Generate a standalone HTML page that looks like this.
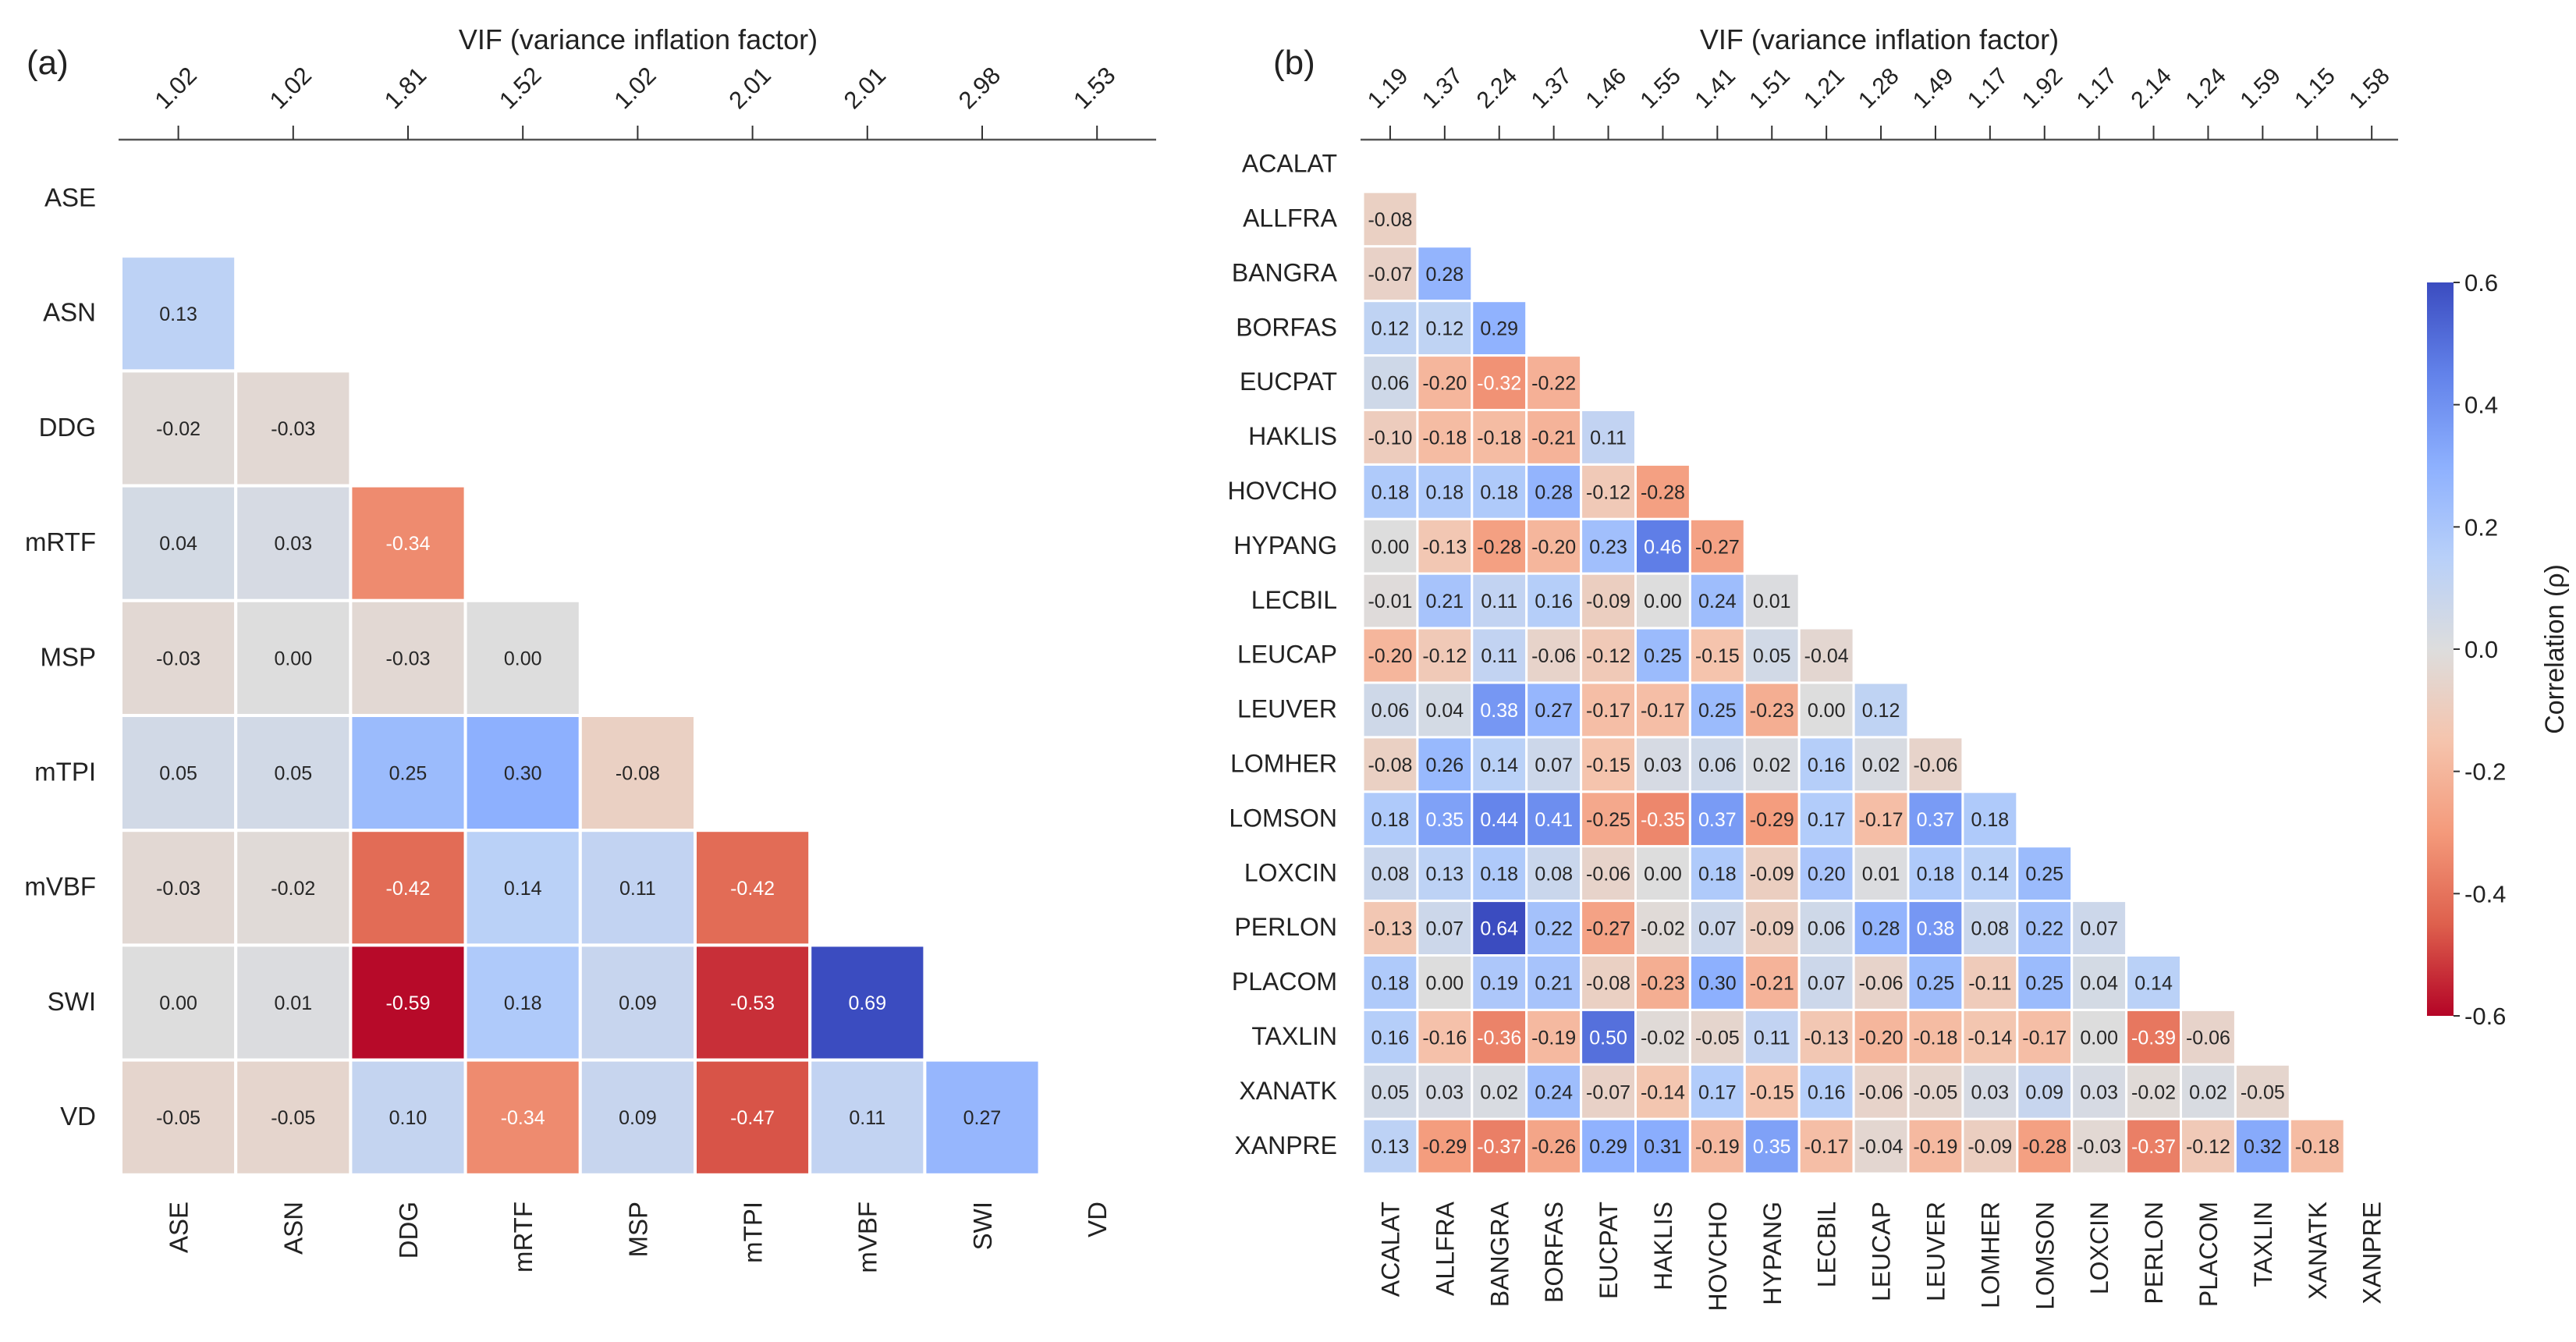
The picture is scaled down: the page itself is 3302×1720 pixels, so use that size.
<!DOCTYPE html>
<html><head><meta charset="utf-8">
<style>
html,body{margin:0;padding:0;background:#fff;}
svg{display:block;font-family:"Liberation Sans",sans-serif;}
</style></head>
<body>
<svg id="chart" width="3302" height="1720" viewBox="0 0 3302 1720" xmlns="http://www.w3.org/2000/svg">
<defs>
<linearGradient id="cbgrad" x1="0" y1="0" x2="0" y2="1">
<stop offset="0" stop-color="rgb(59,76,192)"/>
<stop offset="0.125" stop-color="rgb(98,130,234)"/>
<stop offset="0.25" stop-color="rgb(141,176,254)"/>
<stop offset="0.375" stop-color="rgb(184,208,249)"/>
<stop offset="0.5" stop-color="rgb(221,221,221)"/>
<stop offset="0.625" stop-color="rgb(245,196,173)"/>
<stop offset="0.75" stop-color="rgb(244,154,123)"/>
<stop offset="0.875" stop-color="rgb(222,96,77)"/>
<stop offset="1" stop-color="rgb(180,4,38)"/>
</linearGradient>
</defs>
<g id="panelA"></g>
<g id="panelB"></g>
<g id="cbar"></g>
</svg>
<script>
const varsA = ["ASE","ASN","DDG","mRTF","MSP","mTPI","mVBF","SWI","VD"];
const vifA = ["1.02","1.02","1.81","1.52","1.02","2.01","2.01","2.98","1.53"];
const corrA = [
[],
[0.13],
[-0.02,-0.03],
[0.04,0.03,-0.34],
[-0.03,0.00,-0.03,0.00],
[0.05,0.05,0.25,0.30,-0.08],
[-0.03,-0.02,-0.42,0.14,0.11,-0.42],
[0.00,0.01,-0.59,0.18,0.09,-0.53,0.69],
[-0.05,-0.05,0.10,-0.34,0.09,-0.47,0.11,0.27]
];
const varsB = ["ACALAT","ALLFRA","BANGRA","BORFAS","EUCPAT","HAKLIS","HOVCHO","HYPANG","LECBIL","LEUCAP","LEUVER","LOMHER","LOMSON","LOXCIN","PERLON","PLACOM","TAXLIN","XANATK","XANPRE"];
const vifB = ["1.19","1.37","2.24","1.37","1.46","1.55","1.41","1.51","1.21","1.28","1.49","1.17","1.92","1.17","2.14","1.24","1.59","1.15","1.58"];
const corrB = [
[],
[-0.08],
[-0.07,0.28],
[0.12,0.12,0.29],
[0.06,-0.20,-0.32,-0.22],
[-0.10,-0.18,-0.18,-0.21,0.11],
[0.18,0.18,0.18,0.28,-0.12,-0.28],
[0.00,-0.13,-0.28,-0.20,0.23,0.46,-0.27],
[-0.01,0.21,0.11,0.16,-0.09,0.00,0.24,0.01],
[-0.20,-0.12,0.11,-0.06,-0.12,0.25,-0.15,0.05,-0.04],
[0.06,0.04,0.38,0.27,-0.17,-0.17,0.25,-0.23,0.00,0.12],
[-0.08,0.26,0.14,0.07,-0.15,0.03,0.06,0.02,0.16,0.02,-0.06],
[0.18,0.35,0.44,0.41,-0.25,-0.35,0.37,-0.29,0.17,-0.17,0.37,0.18],
[0.08,0.13,0.18,0.08,-0.06,0.00,0.18,-0.09,0.20,0.01,0.18,0.14,0.25],
[-0.13,0.07,0.64,0.22,-0.27,-0.02,0.07,-0.09,0.06,0.28,0.38,0.08,0.22,0.07],
[0.18,0.00,0.19,0.21,-0.08,-0.23,0.30,-0.21,0.07,-0.06,0.25,-0.11,0.25,0.04,0.14],
[0.16,-0.16,-0.36,-0.19,0.50,-0.02,-0.05,0.11,-0.13,-0.20,-0.18,-0.14,-0.17,0.00,-0.39,-0.06],
[0.05,0.03,0.02,0.24,-0.07,-0.14,0.17,-0.15,0.16,-0.06,-0.05,0.03,0.09,0.03,-0.02,0.02,-0.05],
[0.13,-0.29,-0.37,-0.26,0.29,0.31,-0.19,0.35,-0.17,-0.04,-0.19,-0.09,-0.28,-0.03,-0.37,-0.12,0.32,-0.18]
];
const cbTicks = [0.6,0.4,0.2,0.0,-0.2,-0.4,-0.6];

const NS = "http://www.w3.org/2000/svg";
const VMIN = -0.6, VMAX = 0.6;
const stops = [[59,76,192],[98,130,234],[141,176,254],[184,208,249],[221,221,221],[245,196,173],[244,154,123],[222,96,77],[180,4,38]];
function cmap(v){
  let t = (VMAX - v)/(VMAX - VMIN);
  t = Math.max(0, Math.min(1, t));
  const p = t*8, i = Math.min(7, Math.floor(p)), f = p - i;
  return stops[i].map((c,k)=>Math.round(c + (stops[i+1][k]-c)*f));
}
function lum(rgb){
  const l = rgb.map(c=>{c/=255;return c<=0.03928?c/12.92:Math.pow((c+0.055)/1.055,2.4);});
  return 0.2126*l[0]+0.7152*l[1]+0.0722*l[2];
}
function mk(tag, attrs, parent, text){
  const e = document.createElementNS(NS, tag);
  for (const k in attrs) e.setAttribute(k, attrs[k]);
  if (text !== undefined) e.textContent = text;
  parent.appendChild(e);
  return e;
}

function drawPanel(g, vars, vif, corr, o){
  const n = vars.length;
  const xs = i => o.x0 + i*o.cell;
  const ys = i => o.y0 + i*o.cell;
  const lab = mk('text', {x:o.labX, y:95, 'font-size':44, fill:'#222'}, g, o.letter);
  
  
  const tt = mk('text', {x:o.titleX, y:63, 'font-size':36, fill:'#222', 'text-anchor':'middle'}, g, 'VIF (variance inflation factor)');
  
  
  const ax = mk('line', {x1:o.x0-3, x2:o.axisEnd, y1:179, y2:179, stroke:'#555', 'stroke-width':2.5}, g);
  
  
  for (let j=0;j<n;j++){
    const cx = xs(j) + o.cell/2;
    const tk = mk('line', {x1:cx, x2:cx, y1:161, y2:179, stroke:'#333', 'stroke-width':2}, g);
    
    
    const tl = mk('text', {x:0, y:0, 'font-size':o.vifFont, fill:'#222', 'text-anchor':'middle',
      transform:`translate(${cx+4},${o.vifY}) rotate(-45)`}, g, vif[j]);
    
    
    const bl = mk('text', {x:0, y:0, 'font-size':o.lblFont, fill:'#222', 'text-anchor':'end',
      transform:`translate(${cx+o.lblFont*0.36},${o.botY}) rotate(-90)`}, g, vars[j]);
    
    
  }
  for (let i=0;i<n;i++){
    const rl = mk('text', {x:o.rowLblX, y:ys(i)+o.cell/2+o.lblFont*0.3, 'font-size':o.lblFont, fill:'#222', 'text-anchor':'end'}, g, vars[i]);
    
    
    for (let j=0;j<corr[i].length;j++){
      const v = corr[i][j];
      const c = cmap(v);
      const r = mk('rect', {x:xs(j), y:ys(i), width:o.cell, height:o.cell, fill:`rgb(${c[0]},${c[1]},${c[2]})`, stroke:'#fff', 'stroke-width':o.gap}, g);
      
      
      const t = mk('text', {x:xs(j)+o.cell/2, y:ys(i)+o.cell/2+o.valFont*0.36, 'font-size':o.valFont, 'text-anchor':'middle',
        fill: lum(c) > 0.408 ? '#262626' : '#ffffff'}, g, v.toFixed(2));
      
      
    }
  }
}

drawPanel(document.getElementById('panelA'), varsA, vifA, corrA, {
  x0:155, y0:181, cell:147.2, gap:4, letter:'(a)', labX:34, titleX:818, axisEnd:1482,
  vifFont:31, vifY:120, lblFont:33, valFont:25, rowLblX:123, botY:1540
});
drawPanel(document.getElementById('panelB'), varsB, vifB, corrB, {
  x0:1747, y0:176, cell:69.9, gap:3, letter:'(b)', labX:1632, titleX:2409, axisEnd:3074,
  vifFont:30, vifY:120, lblFont:32, valFont:25, rowLblX:1714, botY:1540
});

const cb = document.getElementById('cbar');
const cbTop = 362, cbBot = 1302, cbX = 3111, cbW = 34;
const cbY = v => cbTop + (VMAX - v)/(VMAX - VMIN)*(cbBot - cbTop);
const cbr = mk('rect', {x:cbX, y:cbTop, width:cbW, height:cbBot-cbTop, fill:'url(#cbgrad)'}, cb);


cbTicks.forEach(v=>{
  const y = cbY(v);
  const tk = mk('line', {x1:cbX+cbW, x2:cbX+cbW+8, y1:y, y2:y, stroke:'#333', 'stroke-width':2}, cb);
  
  
  const tl = mk('text', {x:cbX+cbW+14, y:y+11, 'font-size':31, fill:'#222'}, cb, v.toFixed(1));
  
  
});
const cbt = mk('text', {x:0, y:0, 'font-size':34, fill:'#222', 'text-anchor':'middle', transform:`translate(3286,${(cbTop+cbBot)/2}) rotate(-90)`}, cb, 'Correlation (ρ)');


</script>
</body></html>
